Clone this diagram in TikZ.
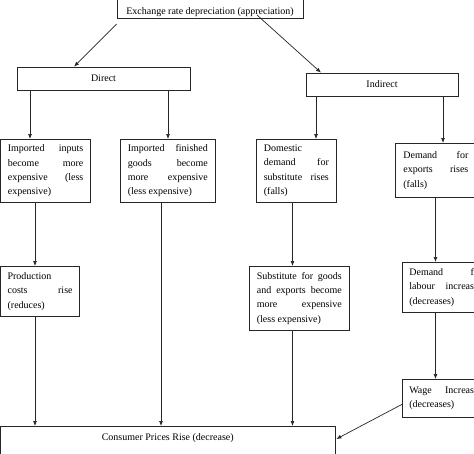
\documentclass[tikz,border=0pt]{standalone}
\usepackage{fontspec}
\setmainfont{Liberation Serif}
\usetikzlibrary{arrows.meta}
\definecolor{lc}{HTML}{262626}
\hyphenpenalty=10000 \tolerance=10000 \hbadness=10000
\begin{document}
\begin{tikzpicture}[x=1pt,y=1pt,
  every node/.style={font=\fontsize{10}{14.3}\selectfont, text=black},
  box/.style={draw=lc, line width=0.7pt, align=justify, anchor=north west, inner ysep=0pt},
  hbox/.style={draw=lc, line width=0.7pt, align=center, minimum height=23pt, inner sep=0pt},
  arr/.style={draw=lc, line width=0.7pt, -{Latex[length=5pt,width=4pt]}}]
\useasboundingbox (0,0) rectangle (474,-453);
\fill[white] (0,0) rectangle (474,-453);
\clip (0,0) rectangle (474,-453);

% header boxes
\node[draw=lc, line width=0.7pt, minimum width=186pt, inner xsep=0pt, inner ysep=2pt,
      text height=25pt, text depth=2.5pt, anchor=south] (top) at (210,-19)
      {Exchange rate depreciation (appreciation)};
\node[hbox, minimum width=173pt] (direct) at (103.5,-78.5) {Direct};
\node[hbox, minimum width=152pt] (indirect) at (382,-84.5) {Indirect};

% second row
\node[box, text width=75.5pt, inner xsep=7pt, minimum height=63pt] (in1) at (0.5,-139)
  {Imported inputs\linebreak become more\linebreak expensive (less\linebreak expensive)};
\node[box, text width=80pt, inner xsep=7.5pt, minimum height=63pt] (in2) at (120,-139)
  {Imported finished\linebreak goods become\linebreak more expensive\linebreak (less expensive)};
\node[box, text width=65pt, inner xsep=7.5pt, minimum height=63pt] (dom) at (256,-139)
  {Domestic\linebreak demand for\linebreak substitute rises\linebreak (falls)};
\node[box, text width=65pt, inner xsep=8pt, minimum height=54pt] (exp) at (395,-143)
  {Demand for\linebreak exports rises\linebreak (falls)};

% third row
\node[box, text width=65pt, inner xsep=6.75pt, minimum height=50pt] (prod) at (0.5,-266)
  {Production\linebreak costs rise\linebreak (reduces)};
\node[box, text width=85pt, inner xsep=7.5pt, minimum height=64pt] (sub) at (249,-266)
  {Substitute for goods\linebreak and exports become\linebreak more expensive\linebreak (less expensive)};
\node[box, text width=73pt, inner xsep=7pt, minimum height=50pt] (lab) at (402,-262)
  {Demand for\linebreak labour increases\linebreak (decreases)};
\node[box, text width=73pt, inner xsep=7pt, minimum height=38pt] (wage) at (402,-379)
  {Wage Increases\linebreak (decreases)};

% bottom box
\node[draw=lc, line width=0.7pt, minimum width=334.5pt, inner xsep=0pt, inner ysep=3pt,
      text height=11.5pt, text depth=30pt, anchor=north] (cons) at (167.75,-426)
      {Consumer Prices Rise (decrease)};

% x positions of vertical connectors
\coordinate (xa) at (30,0);
\coordinate (xb) at (168,0);
\coordinate (xc) at (316,0);
\coordinate (xd) at (443,0);
\coordinate (xe) at (35,0);
\coordinate (xf) at (161,0);
\coordinate (xg) at (292.5,0);
\coordinate (xh) at (435.5,0);

% connectors
\draw[arr] ([yshift=-5pt]top.south west) -- ([xshift=-29.5pt]direct.north);
\draw[arr] ([shift={(47pt,4pt)}]top.south) -- ([xshift=-61pt]indirect.north);
\draw[arr] (direct.south -| xa) -- (in1.north -| xa);
\draw[arr] (direct.south -| xb) -- (in2.north -| xb);
\draw[arr] (indirect.south -| xc) -- (dom.north -| xc);
\draw[arr] (indirect.south -| xd) -- (exp.north -| xd);
\draw[arr] (in1.south -| xe) -- (prod.north -| xe);
\draw[arr] (dom.south -| xg) -- (sub.north -| xg);
\draw[arr] (exp.south -| xh) -- (lab.north -| xh);
\draw[arr] (lab.south -| xh) -- (wage.north -| xh);
\draw[arr] (prod.south -| xe) -- (cons.north -| xe);
\draw[arr] (in2.south -| xf) -- (cons.north -| xf);
\draw[arr] (sub.south -| xg) -- (cons.north -| xg);
\draw[arr] ([yshift=-6pt]wage.west) -- ([shift={(1pt,-13pt)}]cons.north east);
\end{tikzpicture}
\end{document}
